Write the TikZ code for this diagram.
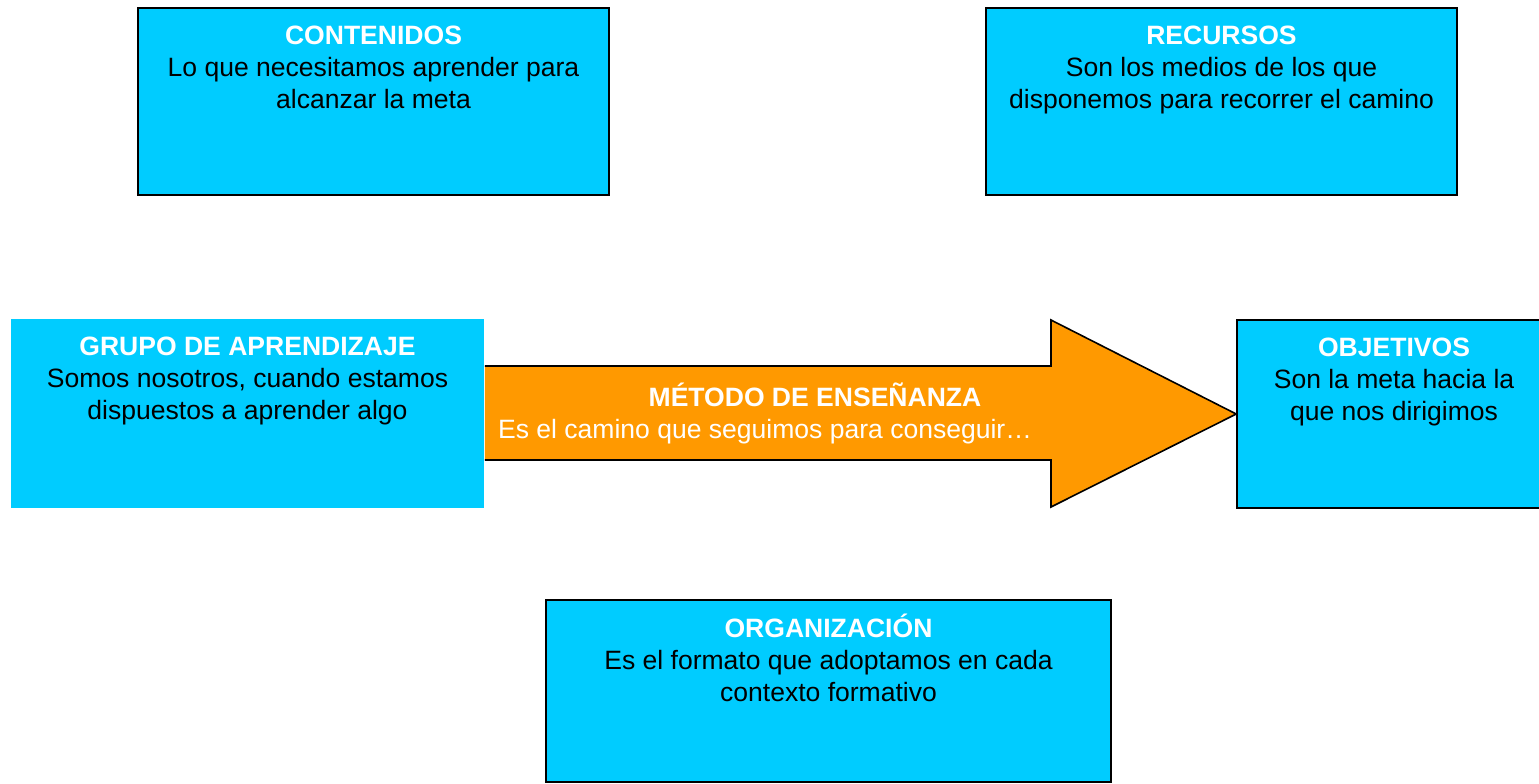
\documentclass[tikz,border=0pt]{standalone}
\usepackage{fontspec}
\setmainfont{Liberation Sans}
\usepackage{tikz}
\usetikzlibrary{positioning,backgrounds}
\definecolor{boxcyan}{HTML}{00CCFF}
\definecolor{arroworange}{HTML}{FF9900}
\newcommand{\ttl}[1]{{\bfseries\color{white}#1}\strut}

\begin{document}
\begin{tikzpicture}[x=0.75pt,y=-0.75pt,
	font=\fontsize{19.9}{24}\selectfont,
	box/.style={fill=boxcyan, draw=black, line width=1.2pt, inner sep=0pt},
	txt/.style={align=center, inner sep=0pt},
	arrowtxt/.style={inner sep=0pt, anchor=base, text=white}]
\useasboundingbox (0,0) rectangle (1539,783);
\node[box, minimum width=353.25pt, minimum height=140.25pt] (cont) at (373.5,101.5) {};
\node[box, minimum width=353.25pt, minimum height=140.25pt] (recu) at (1221.5,101.5) {};
\node[box, draw=none, minimum width=354.75pt, minimum height=141.75pt] (grupo) at (247.5,413.5) {};
\node[box, minimum width=235.5pt, minimum height=141pt] (obj) at (1394,414) {};
\node[box, minimum width=423.75pt, minimum height=136.5pt] (org) at (828.5,691) {};
\node[txt, below=10.9pt of cont.north] (conttxt) {\ttl{CONTENIDOS}\\ Lo que necesitamos aprender para\\ alcanzar la meta};
\node[txt, below=10.9pt of recu.north] (recutxt) {\ttl{RECURSOS}\\ Son los medios de los que\\ disponemos para recorrer el camino};
\node[txt, below=10.9pt of grupo.north] (grupotxt) {\ttl{GRUPO DE APRENDIZAJE}\\ Somos nosotros, cuando estamos\\ dispuestos a aprender algo};
\node[txt, below=10.9pt of obj.north] (objtxt) {\ttl{OBJETIVOS}\\ Son la meta hacia la\\ que nos dirigimos};
\node[txt, below=10.9pt of org.north] (orgtxt) {\ttl{ORGANIZACIÓN}\\ Es el formato que adoptamos en cada\\ contexto formativo};
\begin{scope}[on background layer]
\coordinate (headtop) at (1051,320);
\coordinate (headbot) at (1051,507);
\fill[arroworange] (grupo.east |- 0,366) -- (1051,366) -- (headtop) -- (obj.west)
	-- (headbot) -- (1051,460) -- (grupo.east |- 0,460) -- cycle;
\draw[line width=1.2pt, line join=miter] (grupo.east |- 0,366) -- (1051,366) -- (headtop) -- (obj.west)
	-- (headbot) -- (1051,460) -- (grupo.east |- 0,460);
\end{scope}
\node[arrowtxt, font=\fontsize{19.9}{24}\selectfont\bfseries] (mett) at (815,406) {MÉTODO DE ENSEÑANZA};
\node[arrowtxt] (metsub) at (765,438) {Es el camino que seguimos para conseguir…};
\end{tikzpicture}
\end{document}
